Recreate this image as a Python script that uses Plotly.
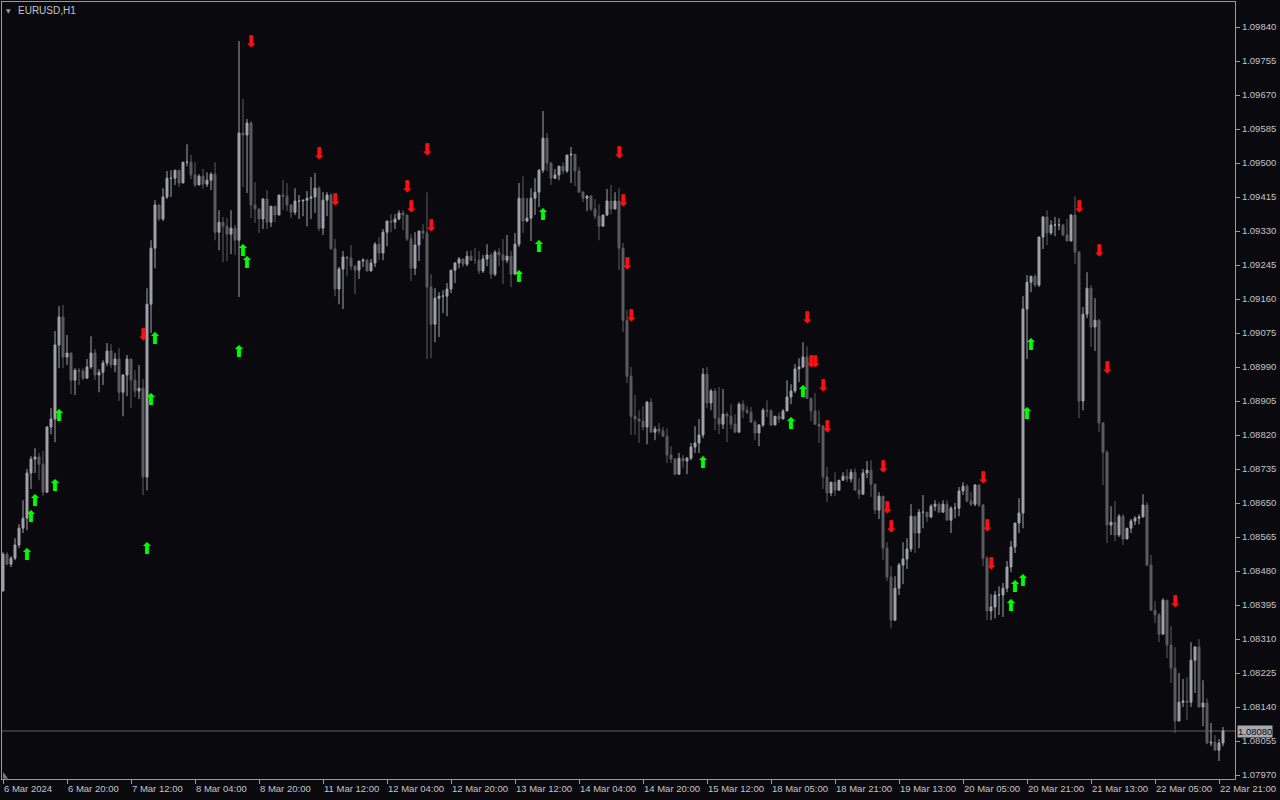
import plotly.graph_objects as go

# ---------------- data (EURUSD H1) ----------------
open_first = 1.08430
closes = [
1.08522,1.08497,1.08512,1.08545,1.08587,1.08612,1.08725,1.08760,1.08765,1.08747,
1.08677,1.08840,1.08860,1.09045,1.09115,1.09015,1.09025,1.08957,1.08982,1.08980,
1.08962,1.08990,1.09025,1.08970,1.08977,1.09000,1.09030,1.08995,1.09010,1.08927,
1.08970,1.09010,1.08957,1.08930,1.08937,1.08715,1.09147,1.09287,1.09395,1.09360,
1.09415,1.09462,1.09462,1.09482,1.09450,1.09502,1.09502,1.09470,1.09445,1.09467,
1.09447,1.09457,1.09472,1.09327,1.09352,1.09342,1.09322,1.09337,1.09307,1.09575,
1.09570,1.09600,1.09395,1.09385,1.09360,1.09410,1.09352,1.09392,1.09370,1.09420,
1.09417,1.09395,1.09377,1.09405,1.09405,1.09407,1.09412,1.09415,1.09437,1.09337,
1.09407,1.09420,1.09285,1.09185,1.09235,1.09265,1.09262,1.09242,1.09232,1.09255,
1.09257,1.09230,1.09250,1.09297,1.09275,1.09327,1.09355,1.09352,1.09360,1.09375,
1.09370,1.09310,1.09237,1.09295,1.09330,1.09325,1.09190,1.09097,1.09162,1.09167,
1.09167,1.09185,1.09232,1.09250,1.09260,1.09247,1.09267,1.09257,1.09257,1.09230,
1.09260,1.09270,1.09222,1.09277,1.09270,1.09257,1.09267,1.09222,1.09297,1.09412,
1.09355,1.09362,1.09412,1.09427,1.09482,1.09562,1.09500,1.09462,1.09470,1.09492,
1.09480,1.09520,1.09522,1.09480,1.09427,1.09412,1.09417,1.09385,1.09367,1.09342,
1.09370,1.09405,1.09385,1.09405,1.09287,1.09107,1.08967,1.08867,1.08860,1.08855,
1.08840,1.08902,1.08827,1.08835,1.08830,1.08817,1.08770,1.08760,1.08722,1.08762,
1.08755,1.08762,1.08790,1.08800,1.08820,1.08972,1.08900,1.08930,1.08862,1.08847,
1.08872,1.08867,1.08847,1.08827,1.08897,1.08882,1.08877,1.08852,1.08825,1.08845,
1.08882,1.08880,1.08845,1.08867,1.08860,1.08880,1.08915,1.08930,1.08985,1.08990,
1.09015,1.08912,1.08880,1.08847,1.08842,1.08715,1.08675,1.08702,1.08682,1.08707,
1.08717,1.08710,1.08727,1.08682,1.08672,1.08725,1.08732,1.08697,1.08632,1.08667,
1.08537,1.08465,1.08357,1.08437,1.08495,1.08510,1.08535,1.08617,1.08575,1.08627,
1.08627,1.08615,1.08642,1.08647,1.08627,1.08647,1.08607,1.08637,1.08637,1.08680,
1.08692,1.08655,1.08647,1.08695,1.08645,1.08512,1.08380,1.08390,1.08420,1.08420,
1.08437,1.08490,1.08540,1.08600,1.08625,1.09135,1.09202,1.09217,1.09195,1.09315,
1.09365,1.09325,1.09345,1.09345,1.09345,1.09320,1.09305,1.09370,1.09277,1.08905,
1.09122,1.09187,1.09090,1.09107,1.08850,1.08777,1.08595,1.08602,1.08570,1.08617,
1.08560,1.08587,1.08605,1.08612,1.08615,1.08645,1.08495,1.08382,1.08370,1.08322,
1.08407,1.08295,1.08237,1.08105,1.08152,1.08155,1.08152,1.08257,1.08290,1.08140,
1.08150,1.08050,1.08052,1.08032,1.08050,1.08080]
highs = [
1.08527,1.08527,1.08517,1.08562,1.08597,1.08657,1.08735,1.08767,1.08787,1.08775,
1.08780,1.08842,1.08887,1.09080,1.09142,1.09145,1.09070,1.09022,1.08987,1.08987,
1.08987,1.09010,1.09067,1.09035,1.08985,1.09007,1.09050,1.09047,1.09025,1.09037,
1.08972,1.09020,1.09010,1.08982,1.08995,1.08960,1.09187,1.09307,1.09407,1.09397,
1.09437,1.09480,1.09482,1.09482,1.09460,1.09502,1.09547,1.09520,1.09502,1.09472,
1.09485,1.09477,1.09477,1.09502,1.09382,1.09365,1.09362,1.09382,1.09345,1.09805,
1.09660,1.09610,1.09605,1.09452,1.09382,1.09412,1.09432,1.09392,1.09380,1.09420,
1.09457,1.09450,1.09397,1.09437,1.09420,1.09407,1.09430,1.09465,1.09475,1.09442,
1.09427,1.09427,1.09425,1.09310,1.09240,1.09280,1.09267,1.09295,1.09245,1.09255,
1.09262,1.09260,1.09260,1.09302,1.09315,1.09335,1.09355,1.09372,1.09372,1.09382,
1.09382,1.09370,1.09322,1.09327,1.09330,1.09347,1.09427,1.09222,1.09187,1.09177,
1.09182,1.09200,1.09232,1.09252,1.09265,1.09260,1.09280,1.09282,1.09287,1.09280,
1.09270,1.09297,1.09275,1.09282,1.09287,1.09310,1.09320,1.09280,1.09325,1.09450,
1.09467,1.09412,1.09437,1.09462,1.09485,1.09630,1.09575,1.09502,1.09485,1.09492,
1.09502,1.09520,1.09540,1.09520,1.09490,1.09430,1.09420,1.09420,1.09410,1.09397,
1.09370,1.09435,1.09445,1.09427,1.09437,1.09300,1.09132,1.08990,1.08920,1.08882,
1.08892,1.08905,1.08912,1.08842,1.08850,1.08840,1.08837,1.08792,1.08762,1.08775,
1.08770,1.08765,1.08800,1.08842,1.08860,1.08987,1.08990,1.08935,1.08937,1.08940,
1.08935,1.08877,1.08897,1.08872,1.08902,1.08907,1.08892,1.08890,1.08857,1.08847,
1.08887,1.08907,1.08885,1.08867,1.08877,1.08885,1.08957,1.08947,1.08997,1.09012,
1.09052,1.09042,1.08912,1.08925,1.08882,1.08845,1.08740,1.08702,1.08727,1.08707,
1.08727,1.08735,1.08735,1.08737,1.08712,1.08735,1.08755,1.08757,1.08697,1.08677,
1.08667,1.08552,1.08492,1.08467,1.08500,1.08552,1.08562,1.08647,1.08617,1.08635,
1.08670,1.08627,1.08647,1.08657,1.08652,1.08657,1.08657,1.08642,1.08650,1.08690,
1.08702,1.08697,1.08677,1.08697,1.08697,1.08647,1.08517,1.08422,1.08430,1.08442,
1.08450,1.08505,1.08555,1.08600,1.08662,1.09167,1.09220,1.09217,1.09222,1.09315,
1.09367,1.09382,1.09357,1.09365,1.09362,1.09347,1.09360,1.09372,1.09417,1.09280,
1.09140,1.09227,1.09195,1.09162,1.09110,1.08852,1.08782,1.08642,1.08655,1.08622,
1.08622,1.08587,1.08610,1.08617,1.08622,1.08672,1.08652,1.08520,1.08405,1.08375,
1.08412,1.08405,1.08342,1.08290,1.08225,1.08210,1.08215,1.08302,1.08292,1.08310,
1.08207,1.08162,1.08100,1.08070,1.08060,1.08090]
lows = [
1.08430,1.08495,1.08490,1.08507,1.08537,1.08575,1.08582,1.08685,1.08725,1.08707,
1.08667,1.08675,1.08822,1.08802,1.08987,1.08987,1.08995,1.08922,1.08920,1.08945,
1.08957,1.08962,1.08985,1.08957,1.08927,1.08945,1.08992,1.08987,1.08977,1.08905,
1.08867,1.08917,1.08887,1.08915,1.08910,1.08670,1.08682,1.09075,1.09237,1.09355,
1.09355,1.09410,1.09415,1.09445,1.09440,1.09455,1.09492,1.09460,1.09440,1.09447,
1.09435,1.09440,1.09432,1.09307,1.09282,1.09252,1.09255,1.09272,1.09270,1.09165,
1.09440,1.09425,1.09362,1.09350,1.09325,1.09335,1.09335,1.09340,1.09352,1.09370,
1.09382,1.09380,1.09362,1.09370,1.09360,1.09367,1.09342,1.09360,1.09375,1.09330,
1.09320,1.09367,1.09285,1.09167,1.09147,1.09135,1.09217,1.09232,1.09172,1.09210,
1.09240,1.09230,1.09230,1.09240,1.09257,1.09257,1.09292,1.09327,1.09335,1.09357,
1.09332,1.09305,1.09205,1.09220,1.09255,1.09310,1.09010,1.09012,1.09052,1.09065,
1.09125,1.09117,1.09175,1.09200,1.09237,1.09240,1.09242,1.09255,1.09247,1.09222,
1.09225,1.09242,1.09210,1.09217,1.09242,1.09197,1.09250,1.09190,1.09222,1.09290,
1.09325,1.09352,1.09305,1.09370,1.09390,1.09475,1.09480,1.09445,1.09460,1.09457,
1.09472,1.09475,1.09450,1.09442,1.09427,1.09402,1.09380,1.09380,1.09360,1.09307,
1.09342,1.09367,1.09372,1.09385,1.09232,1.09077,1.08950,1.08820,1.08820,1.08800,
1.08832,1.08797,1.08827,1.08807,1.08822,1.08815,1.08750,1.08750,1.08720,1.08722,
1.08737,1.08722,1.08757,1.08775,1.08775,1.08812,1.08887,1.08882,1.08832,1.08822,
1.08835,1.08802,1.08835,1.08827,1.08827,1.08862,1.08872,1.08850,1.08807,1.08792,
1.08840,1.08865,1.08842,1.08845,1.08850,1.08862,1.08880,1.08897,1.08925,1.08952,
1.08987,1.08910,1.08855,1.08845,1.08800,1.08685,1.08652,1.08667,1.08667,1.08682,
1.08705,1.08702,1.08702,1.08682,1.08660,1.08675,1.08712,1.08665,1.08622,1.08610,
1.08507,1.08455,1.08337,1.08370,1.08420,1.08447,1.08485,1.08527,1.08525,1.08537,
1.08587,1.08602,1.08612,1.08630,1.08627,1.08637,1.08607,1.08575,1.08612,1.08617,
1.08670,1.08652,1.08642,1.08642,1.08640,1.08492,1.08357,1.08357,1.08362,1.08370,
1.08365,1.08427,1.08477,1.08525,1.08575,1.08587,1.09010,1.09177,1.09190,1.09190,
1.09285,1.09295,1.09320,1.09317,1.09332,1.09317,1.09305,1.09305,1.09247,1.08862,
1.08882,1.09112,1.09040,1.09030,1.08827,1.08695,1.08550,1.08570,1.08555,1.08565,
1.08545,1.08560,1.08575,1.08595,1.08597,1.08615,1.08492,1.08380,1.08350,1.08302,
1.08322,1.08262,1.08200,1.08075,1.08105,1.08140,1.08107,1.08140,1.08175,1.08140,
1.08092,1.08047,1.08042,1.08032,1.08005,1.08042]

# signal arrows (bar index, price)
up_idx = [6, 7, 8, 13, 14, 36, 37, 38, 59, 60, 61, 129, 134, 135, 175, 197, 200,
          252, 253, 255, 256, 257]
up_price = [1.08517, 1.08612, 1.08652, 1.08690, 1.08865, 1.08532, 1.08905, 1.09057,
            1.09025, 1.09277, 1.09247, 1.09212, 1.09287, 1.09367, 1.08747, 1.08845,
            1.08925, 1.08390, 1.08437, 1.08452, 1.08870, 1.09042]
dn_idx = [35, 62, 79, 83, 101, 102, 106, 107, 154, 155, 156, 157, 201, 202, 203, 205,
          206, 220, 221, 222, 245, 246, 247, 269, 274, 276, 293]
dn_price = [1.09067, 1.09800, 1.09520, 1.09405, 1.09437, 1.09387, 1.09530, 1.09340,
            1.09522, 1.09402, 1.09245, 1.09115, 1.09110, 1.09000, 1.09000, 1.08940,
            1.08837, 1.08737, 1.08635, 1.08587, 1.08710, 1.08590, 1.08495, 1.09387,
            1.09277, 1.08985, 1.08400]

# axis labels
time_labels = ["6 Mar 2024", "6 Mar 20:00", "7 Mar 12:00", "8 Mar 04:00", "8 Mar 20:00",
               "11 Mar 12:00", "12 Mar 04:00", "12 Mar 20:00", "13 Mar 12:00",
               "14 Mar 04:00", "14 Mar 20:00", "15 Mar 12:00", "18 Mar 05:00",
               "18 Mar 21:00", "19 Mar 13:00", "20 Mar 05:00", "20 Mar 21:00",
               "21 Mar 13:00", "22 Mar 05:00", "22 Mar 21:00"]
time_label_idx = [16 * k for k in range(len(time_labels))]
price_ticks = [1.09840, 1.09755, 1.09670, 1.09585, 1.09500, 1.09415, 1.09330, 1.09245,
               1.09160, 1.09075, 1.08990, 1.08905, 1.08820, 1.08735, 1.08650, 1.08565,
               1.08480, 1.08395, 1.08310, 1.08225, 1.08140, 1.08055, 1.07970]
last_price = 1.08080
symbol_label = "EURUSD,H1"

# ---------------- build ----------------
n = len(closes)
xs = list(range(n))
opens = [open_first] + closes[:-1]
hi = [max(h, o, c) for h, o, c in zip(highs, opens, closes)]
lo = [min(l, o, c) for l, o, c in zip(lows, opens, closes)]

BG = "#0a0a0e"
AX = "#9a9a9e"
TXT = "#c4c4c8"
UPC = "#a2a2ae"
DNC = "#5c5c62"

fig = go.Figure()
fig.add_trace(go.Candlestick(
    x=xs, open=opens, high=hi, low=lo, close=closes,
    increasing=dict(fillcolor=UPC, line=dict(color=UPC, width=1)),
    decreasing=dict(fillcolor=DNC, line=dict(color=DNC, width=1)),
    whiskerwidth=0, hoverinfo="skip", showlegend=False))

fig.add_trace(go.Scatter(
    x=up_idx, y=up_price, mode="text", text=["⬆"] * len(up_idx),
    textposition="middle center",
    textfont=dict(family="DejaVu Sans", size=16, color="#00ff00"),
    hoverinfo="skip", showlegend=False, cliponaxis=False))
fig.add_trace(go.Scatter(
    x=dn_idx, y=dn_price, mode="text", text=["⬇"] * len(dn_idx),
    textposition="middle center",
    textfont=dict(family="DejaVu Sans", size=16, color="#ff1010"),
    hoverinfo="skip", showlegend=False, cliponaxis=False))

# current price line
fig.add_shape(type="line", xref="paper", x0=0, x1=1, yref="y", y0=last_price, y1=last_price,
              line=dict(color="#606068", width=1), layer="below")

annotations = []
for i, t in zip(time_label_idx, time_labels):
    annotations.append(dict(x=i, y=0, xref="x", yref="paper", text=t, showarrow=False,
                            xanchor="left", yanchor="top", xshift=-1, yshift=-2,
                            font=dict(family="Liberation Sans", size=9.5, color=TXT)))
annotations.append(dict(x=1, y=last_price, xref="paper", yref="y", text=f"{last_price:.5f}",
                        showarrow=False, xanchor="left", yanchor="middle", xshift=2,
                        bgcolor="#a8a8ae", borderpad=0,
                        font=dict(family="Liberation Sans", size=9.5, color="#0a0a0e")))
annotations.append(dict(x=0, y=1, xref="paper", yref="paper", text=symbol_label,
                        showarrow=False, xanchor="left", yanchor="top", xshift=14, yshift=-1,
                        font=dict(family="Liberation Sans", size=10, color=TXT)))
annotations.append(dict(x=0, y=1, xref="paper", yref="paper", text="▼",
                        showarrow=False, xanchor="left", yanchor="top", xshift=2, yshift=-3,
                        font=dict(family="DejaVu Sans", size=6, color=AX)))
fig.update_layout(annotations=annotations)

# little chart-shift marker at bottom-left
fig.add_shape(type="path", xref="paper", yref="paper",
              path="M 0.0008 0.0005 L 0.0008 0.009 L 0.0050 0.0005 Z",
              fillcolor="#7a7a80", line=dict(width=0))

fig.update_layout(
    width=1280, height=800,
    margin=dict(l=2, r=45, t=2, b=21, pad=0),
    paper_bgcolor=BG, plot_bgcolor=BG,
    xaxis=dict(range=[-0.25, 308.0], type="linear", rangeslider=dict(visible=False),
               showgrid=False, zeroline=False, showline=True, linecolor=AX, linewidth=1,
               mirror=True, tickvals=time_label_idx, showticklabels=False,
               ticks="outside", ticklen=4, tickcolor=AX, tickwidth=1),
    yaxis=dict(range=[1.0796, 1.099025], side="right", showgrid=False, zeroline=False,
               showline=True, linecolor=AX, linewidth=1, mirror=True,
               tickvals=price_ticks, ticktext=[f"{v:.5f}" for v in price_ticks],
               ticks="outside", ticklen=4, tickcolor=AX, tickwidth=1,
               tickfont=dict(family="Liberation Sans", size=9.5, color=TXT)),
    font=dict(family="Liberation Sans", color=TXT),
)

fig.write_html("out.html", config={"displayModeBar": False},
               post_script="document.body.style.margin='0';document.body.style.overflow='hidden';"
                           "document.body.style.background='" + BG + "';")
